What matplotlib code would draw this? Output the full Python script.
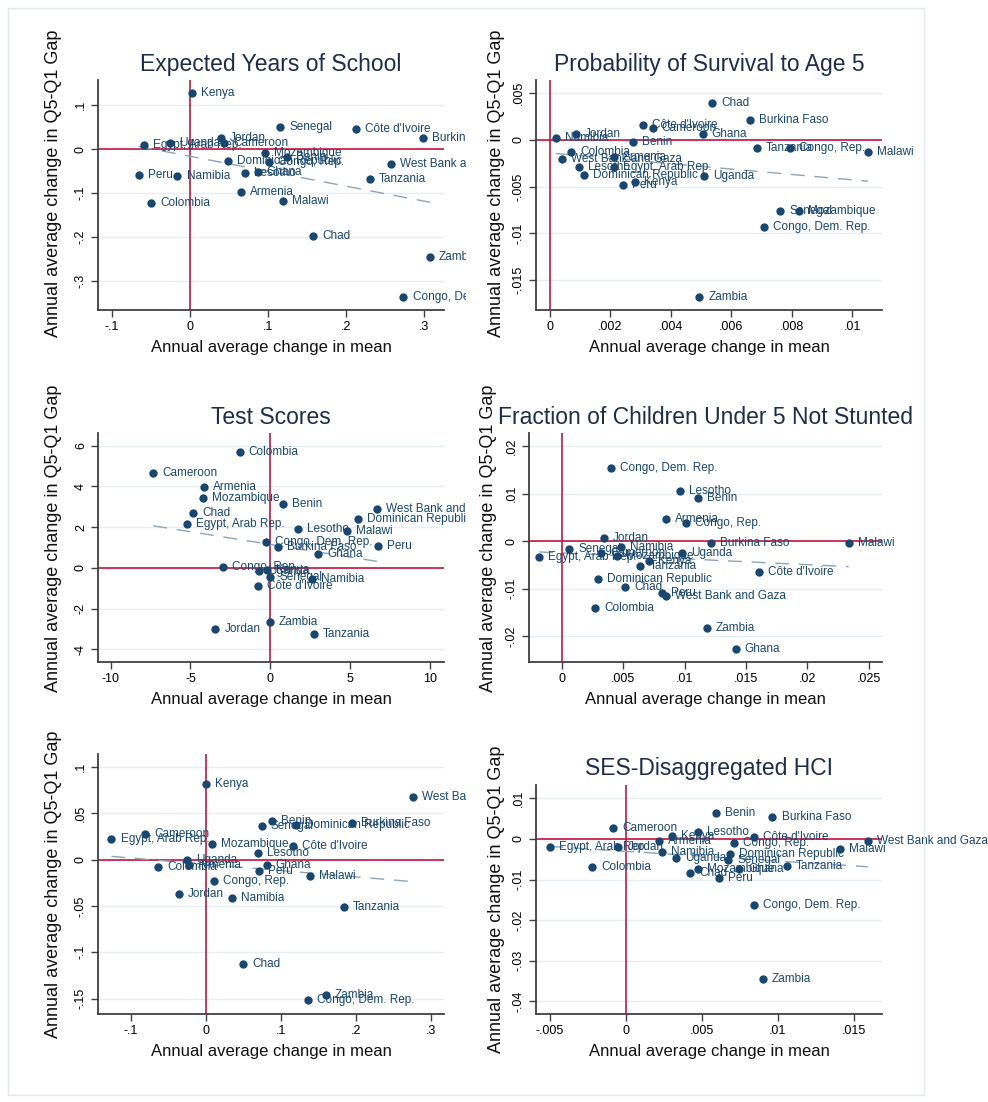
import numpy as np
import matplotlib
matplotlib.use("Agg")
import matplotlib.pyplot as plt
from matplotlib.patches import Rectangle
from matplotlib.transforms import Bbox, TransformedBbox

plt.rcParams['font.family'] = ['Liberation Sans', 'DejaVu Sans']

# countries, same order in every panel
countries = ["Armenia", "Benin", "Burkina Faso", "Cameroon", "Chad", "Colombia",
             "Congo, Dem. Rep.", "Congo, Rep.", "Côte d'Ivoire", "Dominican Republic",
             "Egypt, Arab Rep.", "Ghana", "Jordan", "Kenya", "Lesotho", "Malawi",
             "Mozambique", "Namibia", "Peru", "Senegal", "Tanzania", "Uganda",
             "West Bank and Gaza", "Zambia"]

# expected years of school
eys_x = [0.065, 0.124, 0.299, 0.044, 0.158, -0.050, 0.274, 0.102, 0.213, 0.049, -0.059, 0.087,
         0.040, 0.003, 0.071, 0.119, 0.096, -0.016, -0.066, 0.116, 0.231, -0.025, 0.258, 0.308]
eys_y = [-0.098, -0.019, 0.024, 0.013, -0.198, -0.122, -0.336, -0.030, 0.045, -0.027, 0.010, -0.052,
         0.025, 0.127, -0.055, -0.119, -0.009, -0.061, -0.058, 0.051, -0.067, 0.014, -0.035, -0.246]

# probability of survival to age 5
surv_x = [0.00214, 0.00274, 0.00663, 0.00340, 0.00537, 0.00071, 0.00707, 0.00794, 0.00307, 0.00113,
          0.00214, 0.00506, 0.00086, 0.00281, 0.00098, 0.01051, 0.00823, 0.00020, 0.00242, 0.00761,
          0.00684, 0.00509, 0.00040, 0.00495]
surv_y = [-0.00186, -0.00020, 0.00210, 0.00130, 0.00390, -0.00130, -0.00928, -0.00089, 0.00160, -0.00375,
          -0.00286, 0.00064, 0.00060, -0.00453, -0.00286, -0.00125, -0.00757, 0.00020, -0.00478, -0.00757,
          -0.00089, -0.00385, -0.00200, -0.01680]

# test scores
test_x = [-4.15, 0.78, 0.49, -7.33, -4.84, -1.91, -0.24, -2.96, -0.76, 5.53, -5.24, 3.00,
          -3.44, -0.22, 1.77, 4.84, -4.23, 2.65, 6.76, 0.01, 2.75, -0.70, 6.70, -0.03]
test_y = [3.99, 3.14, 1.02, 4.68, 2.68, 5.70, 1.28, 0.02, -0.90, 2.40, 2.17, 0.67,
          -3.03, -0.10, 1.92, 1.82, 3.42, -0.56, 1.08, -0.44, -3.23, -0.18, 2.88, -2.66]

# fraction of children under 5 not stunted
stunt_x = [0.00851, 0.01107, 0.01218, 0.00318, 0.00514, 0.00272, 0.00402, 0.01009, 0.01607, 0.00291,
           -0.00185, 0.01417, 0.00340, 0.00710, 0.00965, 0.02338, 0.00451, 0.00484, 0.00818, 0.00057,
           0.00639, 0.00976, 0.00851, 0.01180]
stunt_y = [0.0047, 0.0090, -0.0005, -0.0026, -0.0096, -0.0142, 0.01534, 0.0039, -0.00647, -0.0080,
           -0.0033, -0.0228, 0.0007, -0.0042, 0.01049, -0.0005, -0.0032, -0.0013, -0.0110, -0.00175,
           -0.00527, -0.0026, -0.01167, -0.01835]

# bottom left panel (untitled)
p5_x = [-0.022, 0.0878, 0.1948, -0.0806, 0.0495, -0.0637, 0.1364, 0.0112, 0.1163, 0.121, -0.126, 0.081,
        -0.036, 0.000, 0.0695, 0.1396, 0.008, 0.0344, 0.0709, 0.0749, 0.1845, -0.025, 0.2768, 0.160]
p5_y = [-0.006, 0.0414, 0.0399, 0.0277, -0.113, -0.0075, -0.152, -0.0226, 0.0151, 0.0374, 0.022, -0.0057,
        -0.0373, 0.0816, 0.0076, -0.0176, 0.0166, -0.041, -0.0125, 0.036, -0.0506, -0.0003, 0.0672, -0.1458]

# SES-disaggregated HCI
hci_x = [0.00218, 0.00595, 0.00966, -0.00082, 0.00424, -0.00218, 0.00845, 0.00714, 0.00845, 0.00688,
         -0.00499, 0.00749, -0.00047, 0.00304, 0.00475, 0.01411, 0.00477, 0.00242, 0.00613, 0.00674,
         0.01060, 0.00334, 0.01593, 0.00903]
hci_y = [-0.0004, 0.0063, 0.0055, 0.0027, -0.0084, -0.0068, -0.0162, -0.00106, 0.0005, -0.0036,
         -0.0020, -0.0074, -0.0020, 0.00066, 0.0018, -0.0025, -0.0074, -0.0033, -0.0096, -0.0052,
         -0.0066, -0.0048, -0.0005, -0.0346]

titles = ["Expected Years of School", "Probability of Survival to Age 5", "Test Scores",
          "Fraction of Children Under 5 Not Stunted", "", "SES-Disaggregated HCI"]
xticks = [[-.1, 0, .1, .2, .3], [0, .002, .004, .006, .008, .01], [-10, -5, 0, 5, 10],
          [0, .005, .01, .015, .02, .025], [-.1, 0, .1, .2, .3], [-.005, 0, .005, .01, .015]]
yticks = [[-.3, -.2, -.1, 0, .1], [-.015, -.01, -.005, 0, .005], [-4, -2, 0, 2, 4, 6],
          [-.02, -.01, 0, .01, .02], [-.15, -.1, -.05, 0, .05, .1], [-.04, -.03, -.02, -.01, 0, .01]]
xlims = [(-0.118, 0.326), (-0.00045, 0.01098), (-10.8, 10.9), (-0.0027, 0.0261), (-0.144, 0.318), (-0.00589, 0.01686)]
ylims = [(-0.366, 0.157), (-0.0182, 0.0064), (-4.63, 6.63), (-0.0255, 0.0228), (-0.1666, 0.114), (-0.0431, 0.01327)]

panels = [(eys_x, eys_y), (surv_x, surv_y), (test_x, test_y),
          (stunt_x, stunt_y), (p5_x, p5_y), (hci_x, hci_y)]

# axes boxes in pixels: left, top, right, bottom
W, H = 988, 1102
boxes = [(98, 80, 444, 310), (536, 80, 882, 310), (98, 433, 444, 662),
         (529, 433, 882, 662), (98, 754, 444, 1014), (536, 785, 882, 1014)]
ylab_x = [-0.104, -0.09, -0.104, -0.09, -0.104, -0.09]
ylab_y = [0.55, 0.55, 0.54, 0.54, 0.5, 0.5]

navy = '#1a476f'
red = '#c8143c'


def stata_fmt(v):
    if v == 0:
        return "0"
    if float(v).is_integer():
        return str(int(v))
    s = ("%g" % v)
    return s.replace("0.", ".")


fig = plt.figure(figsize=(W / 100, H / 100), dpi=100)
fig.patches.append(Rectangle((8 / W, 1 - 1095 / H), 916 / W, 1087 / H, transform=fig.transFigure,
                             fill=False, edgecolor='#e1e9ec', lw=1))

# left column labels get cut at the panel edge
left_clip = TransformedBbox(Bbox([[0, 0], [466 / W, 1]]), fig.transFigure)

for i, (xs, ys) in enumerate(panels):
    l, t, r, b = boxes[i]
    ax = fig.add_axes([l / W, 1 - b / H, (r - l) / W, (b - t) / H])
    xs = np.array(xs)
    ys = np.array(ys)

    ax.set_xlim(xlims[i])
    ax.set_ylim(ylims[i])
    ax.set_xticks(xticks[i])
    ax.set_yticks(yticks[i])
    ax.set_xticklabels([stata_fmt(v) for v in xticks[i]], fontsize=9)
    ax.set_yticklabels([stata_fmt(v) for v in yticks[i]], fontsize=9, rotation=90, va='center')
    ax.grid(axis='y', color='#e6eef0', lw=1)
    ax.set_axisbelow(True)
    for s in ['top', 'right']:
        ax.spines[s].set_visible(False)
    for s in ['left', 'bottom']:
        ax.spines[s].set_color('#404040')
        ax.spines[s].set_linewidth(1.3)
    ax.tick_params(direction='out', length=5, width=1, color='#404040', pad=3)

    ax.axhline(0, color=red, lw=1.2, zorder=2)
    ax.axvline(0, color=red, lw=1.2, zorder=2)

    # linear fit
    k, c = np.polyfit(xs, ys, 1)
    fx = np.array([xs.min(), xs.max()])
    ax.plot(fx, k * fx + c, color='#8ea4b8', lw=1, dashes=(10, 7), zorder=2)

    ax.scatter(xs, ys, s=36, color=navy, zorder=3, linewidths=0)
    for name, px, py in zip(countries, xs, ys):
        txt = ax.annotate(name, (px, py), xytext=(6.5, 0), textcoords='offset points',
                          va='center', ha='left', fontsize=8.5, color=navy, zorder=4,
                          annotation_clip=False)
        if i % 2 == 0:
            txt.set_clip_on(True)
            txt.set_clip_box(left_clip)

    if titles[i]:
        ax.text(0.5, 1 + 16 / (b - t), titles[i], transform=ax.transAxes, ha='center',
                va='center', fontsize=16.5, color='#1e2d4a')
    ax.set_xlabel("Annual average change in mean", fontsize=12, color='#111111')
    ax.xaxis.set_label_coords(0.5, -30 / (b - t))
    ax.set_ylabel("Annual average change in Q5-Q1 Gap", fontsize=13, color='#111111')
    ax.yaxis.set_label_coords(ylab_x[i], ylab_y[i])

fig.savefig("out.png", dpi=100, facecolor='white')
